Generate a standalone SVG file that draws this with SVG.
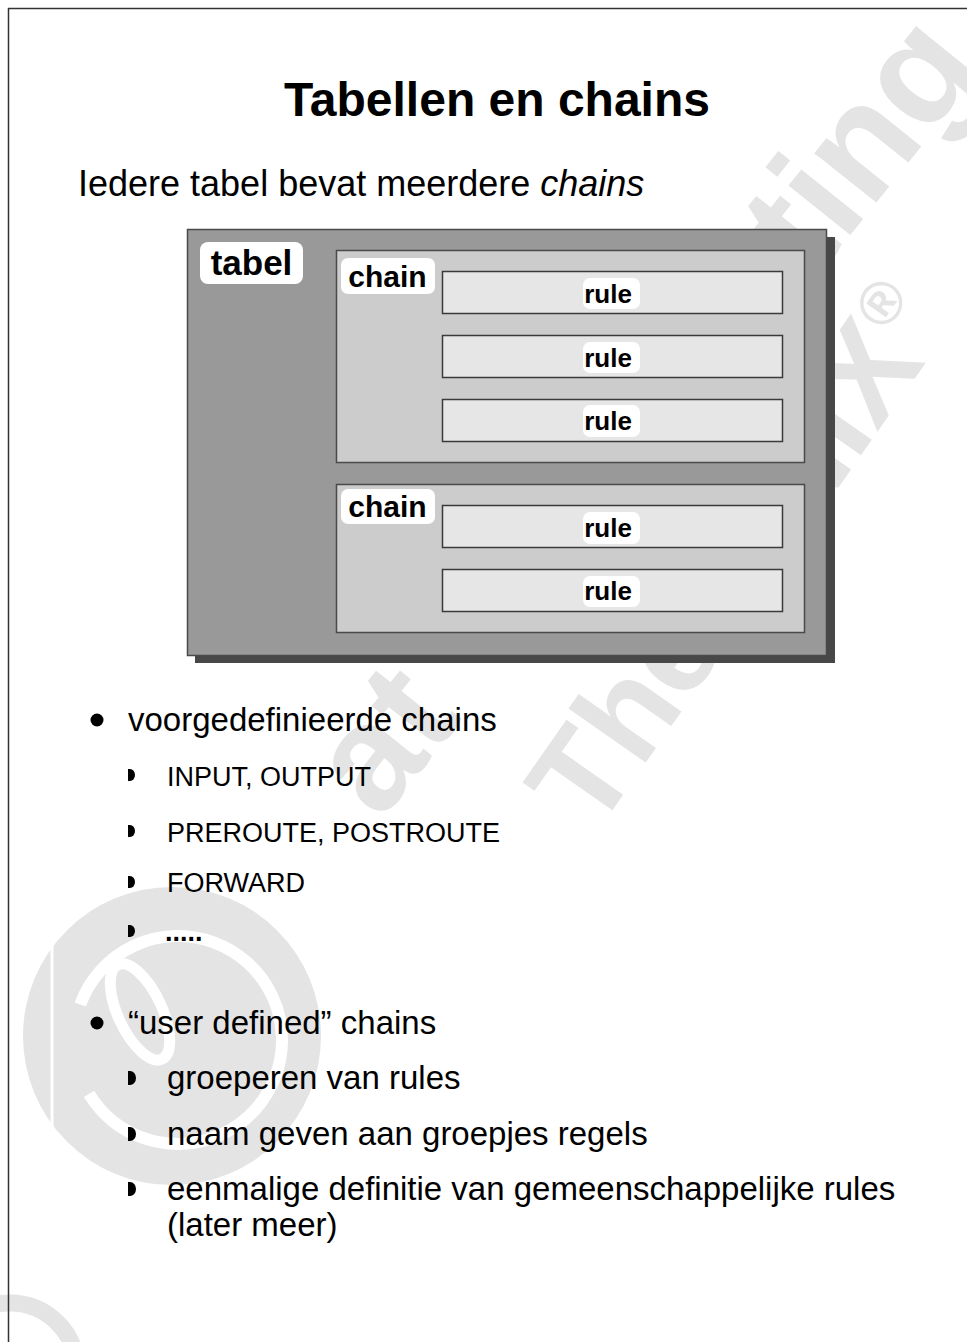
<svg xmlns="http://www.w3.org/2000/svg" width="967" height="1342" viewBox="0 0 967 1342">
  <style>
    .wm { fill: #e4e4e4; font-family: "Liberation Sans", Arial, sans-serif; font-weight: bold; }
    .txt { font-family: "Liberation Sans", Arial, Helvetica, sans-serif; fill: #000; }
    .lbl { font-family: "Liberation Sans", Arial, Helvetica, sans-serif; font-weight: bold; fill: #000; }
    .tag { fill: #fff; }
    .chain { fill: #cccccc; stroke: #4a4a4a; stroke-width: 1.5; }
    .rule { fill: #e6e6e6; stroke: #3a3a3a; stroke-width: 1.5; }
  </style>

  <rect width="967" height="1342" fill="#fff"/>

  <!-- background watermark -->
  <g id="watermark">
    <text class="wm" font-size="150" transform="translate(380,822) rotate(-51.3)">at Computing</text>
    <text class="wm" font-size="130" transform="translate(595,835) rotate(-55)">The UNIX<tspan font-size="60" dy="-50">®</tspan></text>
    <circle cx="172" cy="1036" r="149" fill="#e4e4e4"/>
    <circle cx="178" cy="1040" r="104" fill="none" stroke="#fff" stroke-width="12" stroke-dasharray="560 93" transform="rotate(200 178 1040)"/>
    <line x1="52" y1="945" x2="52" y2="1127" stroke="#fff" stroke-width="3"/>
    <ellipse cx="140" cy="1012" rx="22" ry="52" fill="none" stroke="#fff" stroke-width="11" transform="rotate(-25 140 1012)"/>
    <circle cx="10" cy="1370" r="67" fill="none" stroke="#e4e4e4" stroke-width="17"/>
  </g>

  <!-- page frame -->
  <g id="frame" stroke="#333" stroke-width="1.5" fill="none">
    <line x1="8" y1="8.5" x2="967" y2="8.5"/>
    <line x1="8.5" y1="8" x2="8.5" y2="1342"/>
  </g>

  <g id="title">
    <text class="txt" x="497" y="116" font-size="48" font-weight="bold" text-anchor="middle">Tabellen en chains</text>
  </g>
  <g id="subtitle">
    <text class="txt" x="78" y="196" font-size="36">Iedere tabel bevat meerdere <tspan font-style="italic">chains</tspan></text>
  </g>

  <!-- table with its chains and rules -->
  <g id="tabel">
    <rect x="195" y="237" width="640" height="426" fill="#474747"/>
    <rect x="187.5" y="229.5" width="639" height="426" fill="#999999" stroke="#4a4a4a" stroke-width="1.5"/>
    <rect class="tag" x="200" y="242" width="103" height="42" rx="8"/>
    <text class="lbl" x="251.5" y="275" font-size="35" text-anchor="middle">tabel</text>
  </g>

  <g id="chain1">
    <rect class="chain" x="336.5" y="250.5" width="468" height="212"/>
    <rect class="tag" x="341" y="258" width="94" height="36" rx="7"/>
    <text class="lbl" x="387.5" y="287" font-size="30" text-anchor="middle">chain</text>
  </g>
  <g id="rule1">
    <rect class="rule" x="442.5" y="271.5" width="340" height="42"/>
    <rect class="tag" x="583" y="278" width="57" height="31" rx="7"/>
    <text class="lbl" x="608" y="303" font-size="26" text-anchor="middle">rule</text>
  </g>
  <g id="rule2">
    <rect class="rule" x="442.5" y="335.5" width="340" height="42"/>
    <rect class="tag" x="583" y="342" width="57" height="31" rx="7"/>
    <text class="lbl" x="608" y="367" font-size="26" text-anchor="middle">rule</text>
  </g>
  <g id="rule3">
    <rect class="rule" x="442.5" y="399.5" width="340" height="42"/>
    <rect class="tag" x="583" y="405" width="57" height="32" rx="7"/>
    <text class="lbl" x="608" y="430" font-size="26" text-anchor="middle">rule</text>
  </g>

  <g id="chain2">
    <rect class="chain" x="336.5" y="484.5" width="468" height="148"/>
    <rect class="tag" x="341" y="489" width="94" height="35" rx="7"/>
    <text class="lbl" x="387.5" y="517" font-size="30" text-anchor="middle">chain</text>
  </g>
  <g id="rule4">
    <rect class="rule" x="442.5" y="505.5" width="340" height="42"/>
    <rect class="tag" x="583" y="512" width="57" height="32" rx="7"/>
    <text class="lbl" x="608" y="537" font-size="26" text-anchor="middle">rule</text>
  </g>
  <g id="rule5">
    <rect class="rule" x="442.5" y="569.5" width="340" height="42"/>
    <rect class="tag" x="583" y="576" width="57" height="31" rx="7"/>
    <text class="lbl" x="608" y="600" font-size="26" text-anchor="middle">rule</text>
  </g>

  <!-- bullet list -->
  <g id="bullets">
    <circle cx="97" cy="720" r="6.5" fill="#000"/>
    <text class="txt" x="128" y="731" font-size="33">voorgedefinieerde chains</text>

    <path d="M128,769 h2 a5,6 0 0 1 0,12 h-2 z" fill="#000"/>
    <text class="txt" x="167" y="786" font-size="27">INPUT, OUTPUT</text>
    <path d="M128,825 h2 a5,6 0 0 1 0,12 h-2 z" fill="#000"/>
    <text class="txt" x="167" y="842" font-size="27">PREROUTE, POSTROUTE</text>
    <path d="M128,876 h2 a5,6 0 0 1 0,12 h-2 z" fill="#000"/>
    <text class="txt" x="167" y="892" font-size="27">FORWARD</text>
    <path d="M128,925 h2 a5,6 0 0 1 0,12 h-2 z" fill="#000"/>
    <text class="txt" x="165" y="941" font-size="27" font-weight="bold">.....</text>

    <circle cx="97" cy="1023" r="6.5" fill="#000"/>
    <text class="txt" x="128" y="1034" font-size="33">“user defined” chains</text>

    <path d="M128,1071 h2 a6,7 0 0 1 0,14 h-2 z" fill="#000"/>
    <text class="txt" x="167" y="1089" font-size="33">groeperen van rules</text>
    <path d="M128,1127 h2 a6,7 0 0 1 0,14 h-2 z" fill="#000"/>
    <text class="txt" x="167" y="1145" font-size="33">naam geven aan groepjes regels</text>
    <path d="M128,1182 h2 a6,7 0 0 1 0,14 h-2 z" fill="#000"/>
    <text class="txt" x="167" y="1200" font-size="33">eenmalige definitie van gemeenschappelijke rules</text>
    <text class="txt" x="167" y="1236" font-size="33">(later meer)</text>
  </g>
</svg>
